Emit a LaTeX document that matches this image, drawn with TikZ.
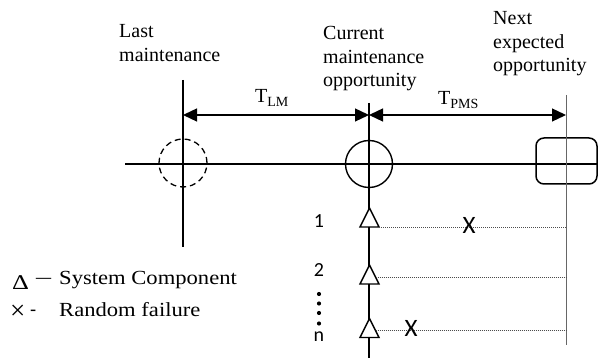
\documentclass[tikz,border=0pt]{standalone}
\usepackage{fontspec}
\setmainfont{Liberation Serif}
\newfontfamily\calfont{Carlito}
\usetikzlibrary{arrows.meta,calc}

\begin{document}
\begin{tikzpicture}[x=1pt,y=-1pt,
  lbl/.style={anchor=north west, inner sep=0pt, align=left,
              font=\fontsize{20}{23.5}\selectfont},
  tlabel/.style={anchor=base west, inner sep=0pt, font=\fontsize{20}{20}\selectfont},
  span/.style={{Triangle[length=14pt,width=13pt]}-{Triangle[length=14pt,width=13pt]},
               line width=1.3pt},
  axis/.style={line width=1.3pt},
  comp/.style={line width=1.4pt, fill=white, line join=miter},
  life/.style={black!70, line width=0.8pt, dash pattern=on 1pt off 1pt},
  num/.style={font=\calfont\fontsize{20}{20}\selectfont, inner sep=0pt},
  fail/.style={font=\calfont\fontsize{25}{25}\selectfont, inner sep=0pt},
  legend/.style={anchor=base west, inner sep=0pt, font=\fontsize{20}{20}\selectfont},
]
\useasboundingbox (0,0) rectangle (598,358);

% time axis
\draw[line width=1.6pt] (125,164) -- (598,164);

% maintenance events on the axis
\node[circle, draw, dashed, dash pattern=on 6pt off 4pt, line width=1.3pt,
      minimum size=48pt, inner sep=0pt] (lastev) at (183,163) {};
\node[circle, draw, line width=1.4pt, minimum size=47pt, inner sep=0pt] (curev) at (369,164) {};
\node[draw, rounded corners=8pt, line width=1.5pt, minimum width=61pt,
      minimum height=46pt, inner sep=0pt] (nextev) at (566.5,161) {};

% vertical markers
\draw[axis] (183,80) -- (183,247);
\draw[axis] (369,103) -- (369,358);
\draw[black!60, line width=1pt] (566,95) -- (566,345);

% interval arrows
\coordinate (lmA) at (183,115);
\coordinate (lmB) at (369,115);
\coordinate (pmA) at (369,115);
\coordinate (pmB) at (566,115);
\draw[span] (lmB) -- (lmA);
\draw[span] (pmA) -- (pmB);
\node[tlabel] (tlm) at (255,103) {T\raisebox{-3.5pt}{\fontsize{14}{14}\selectfont LM}};
\node[tlabel] (tpms) at (438,105) {T\raisebox{-3.5pt}{\fontsize{14}{14}\selectfont PMS}};

% headings
\node[lbl] (hlast) at (119,24.5) {Last\\maintenance};
\node[lbl] (hcur) at (323,26.5) {Current\\maintenance\\opportunity};
\node[lbl] (hnext) at (493,11.5) {Next\\expected\\opportunity};

% system components
\coordinate (t1) at (369.5,208);
\coordinate (t2) at (369.5,265);
\coordinate (t3) at (369.5,318.5);
\foreach \t in {t1,t2,t3}
  \draw[comp] (\t) -- ++(9.5,19) -- ++(-19,0) -- cycle;

% component life lines up to the next opportunity
\coordinate (e1) at (566,227);
\coordinate (e2) at (566,277);
\coordinate (e3) at (566,330);
\draw[life] ($(t1)+(9.5,19)$) -- (e1);
\draw[life] ($(t2)+(6,12)$) -- (e2);
\draw[life] ($(t3)+(6,11.5)$) -- (e3);

% random failures
\node[fail] (f1) at (469,225) {X};
\node[fail] (f3) at (411,328) {X};

% component indices
\node[num] (n1) at (319,221) {1};
\node[num] (n2) at (319,270) {2};
\node[num] (nn) at (319,337) {n};
\foreach \y in {294,303.5,313,323.5}
  \fill (319,\y) circle[radius=2.1pt];

% legend
\node[legend, font=\fontsize{21}{21}\selectfont] (lgd1) at (12,290) {\scalebox{1.25}[1]{Δ}};
\node[legend] (lgd1d) at (36,284) {\scalebox{1.5}[1]{–}};
\node[legend] (lgd1t) at (59,285) {\scalebox{1.13}[1]{System Component}};
\node[legend, font=\fontsize{27}{27}\selectfont] (lgd2) at (10,320) {×};
\node[anchor=base west, inner sep=0pt, font=\calfont\fontsize{20}{20}\selectfont] (lgd2d) at (30,317) {-};
\node[legend] (lgd2t) at (59,317) {\scalebox{1.13}[1]{Random failure}};
\end{tikzpicture}
\end{document}
